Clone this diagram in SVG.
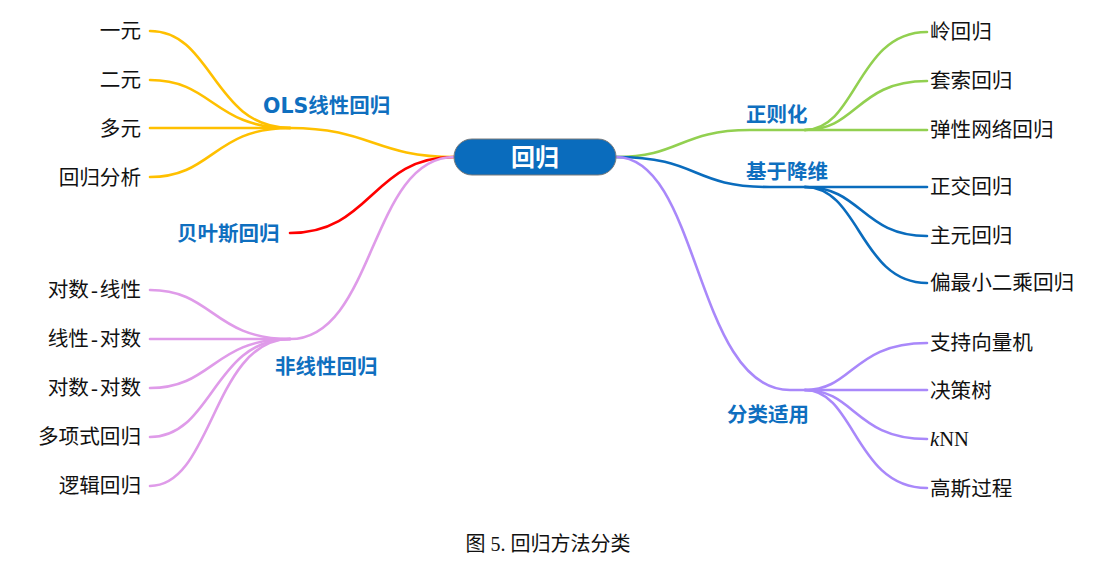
<svg xmlns="http://www.w3.org/2000/svg" width="1112" height="573" viewBox="0 0 1112 573">
<style>
.c{fill:none;stroke-width:2.6;stroke-linecap:round}
.leaf{font-family:"Liberation Serif","Noto Sans CJK SC",serif;font-size:20.6px;fill:#111}
.lbl{font-family:"DejaVu Sans","Noto Sans CJK SC",sans-serif;font-size:20.5px;font-weight:bold;fill:#0f6fbf}
.root{font-family:"Liberation Sans","Noto Sans CJK SC",sans-serif;font-size:24px;font-weight:bold;fill:#fff}
.cap{font-family:"Liberation Serif","Noto Sans CJK SC",serif;font-size:20px;fill:#111}
.y{stroke:#ffc000}.r{stroke:#ff0000}.p{stroke:#df9be9}.g{stroke:#92d050}.b{stroke:#0a6cbd}.v{stroke:#a988fa}
</style>
<rect width="1112" height="573" fill="#fff"/>
<g id="connectors">
<path class="c y" d="M454,157 C375,157 370,128 290,128"/>
<path class="c y" d="M290,128 C213,128 213,31 150,31"/>
<path class="c y" d="M290,128 C213,128 213,80 150,80"/>
<path class="c y" d="M290,128 L150,128"/>
<path class="c y" d="M290,128 C213,128 213,177 150,177"/>
<path class="c r" d="M454,157 C372,157 372,233 290,233"/>
<path class="c p" d="M454,157 C370,157 375,339 290,339"/>
<path class="c p" d="M290,339 C213,339 213,290 150,290"/>
<path class="c p" d="M290,339 L150,339"/>
<path class="c p" d="M290,339 C213,339 213,388 150,388"/>
<path class="c p" d="M290,339 C213,339 213,437 150,437"/>
<path class="c p" d="M290,339 C213,339 213,486 150,486"/>
<path class="c g" d="M616,157 C680,157 680,130 750,130 L805,130"/>
<path class="c g" d="M805,130 C857,130 857,32 927,32"/>
<path class="c g" d="M805,130 C857,130 857,81 927,81"/>
<path class="c g" d="M805,130 L927,130"/>
<path class="c b" d="M616,157 C700,157 690,187 770,187 L805,187"/>
<path class="c b" d="M805,187 L927,187"/>
<path class="c b" d="M805,187 C862,187 862,236 927,236"/>
<path class="c b" d="M805,187 C860,187 860,283 927,283"/>
<path class="c v" d="M616,157 C700,157 695,390 790,390 L805,390"/>
<path class="c v" d="M805,390 C853,390 853,343 927,343"/>
<path class="c v" d="M805,390 L927,390"/>
<path class="c v" d="M805,390 C855,390 855,439 927,439"/>
<path class="c v" d="M805,390 C855,390 855,488 927,488"/>
</g>
<g id="root">
<rect x="454" y="139" width="162" height="36" rx="18" fill="#0a6cbd" stroke="#7a7a7a" stroke-width="1"/>
<text class="root" x="535" y="166" text-anchor="middle">回归</text>
</g>
<g id="ols"><text class="lbl" x="263" y="113">OLS线性回归</text></g>
<g id="bayes"><text class="lbl" x="177" y="241">贝叶斯回归</text></g>
<g id="nonlinear"><text class="lbl" x="275" y="374">非线性回归</text></g>
<g id="reg"><text class="lbl" x="746" y="122">正则化</text></g>
<g id="dimred"><text class="lbl" x="746" y="179">基于降维</text></g>
<g id="cls"><text class="lbl" x="727" y="422">分类适用</text></g>
<g id="l-yiyuan"><text class="leaf" x="141" y="38" text-anchor="end">一元</text></g>
<g id="l-eryuan"><text class="leaf" x="141" y="87" text-anchor="end">二元</text></g>
<g id="l-duoyuan"><text class="leaf" x="141" y="136" text-anchor="end">多元</text></g>
<g id="l-fenxi"><text class="leaf" x="141" y="185" text-anchor="end">回归分析</text></g>
<g id="l-loglin"><text class="leaf" x="141" y="297" text-anchor="end">对数<tspan dx="2">-</tspan><tspan dx="2">线性</tspan></text></g>
<g id="l-linlog"><text class="leaf" x="141" y="346" text-anchor="end">线性<tspan dx="2">-</tspan><tspan dx="2">对数</tspan></text></g>
<g id="l-loglog"><text class="leaf" x="141" y="395" text-anchor="end">对数<tspan dx="2">-</tspan><tspan dx="2">对数</tspan></text></g>
<g id="l-poly"><text class="leaf" x="141" y="444" text-anchor="end">多项式回归</text></g>
<g id="l-logit"><text class="leaf" x="141" y="493" text-anchor="end">逻辑回归</text></g>
<g id="r-ridge"><text class="leaf" x="930" y="39">岭回归</text></g>
<g id="r-lasso"><text class="leaf" x="930" y="88">套索回归</text></g>
<g id="r-enet"><text class="leaf" x="930" y="137">弹性网络回归</text></g>
<g id="r-orth"><text class="leaf" x="930" y="194">正交回归</text></g>
<g id="r-pcr"><text class="leaf" x="930" y="243">主元回归</text></g>
<g id="r-pls"><text class="leaf" x="930" y="290">偏最小二乘回归</text></g>
<g id="r-svm"><text class="leaf" x="930" y="350">支持向量机</text></g>
<g id="r-tree"><text class="leaf" x="930" y="398">决策树</text></g>
<g id="r-knn"><text class="leaf" x="930" y="446"><tspan font-style="italic">k</tspan>NN</text></g>
<g id="r-gp"><text class="leaf" x="930" y="496">高斯过程</text></g>
<text class="cap" x="548" y="551" text-anchor="middle">图 5. 回归方法分类</text>
</svg>
